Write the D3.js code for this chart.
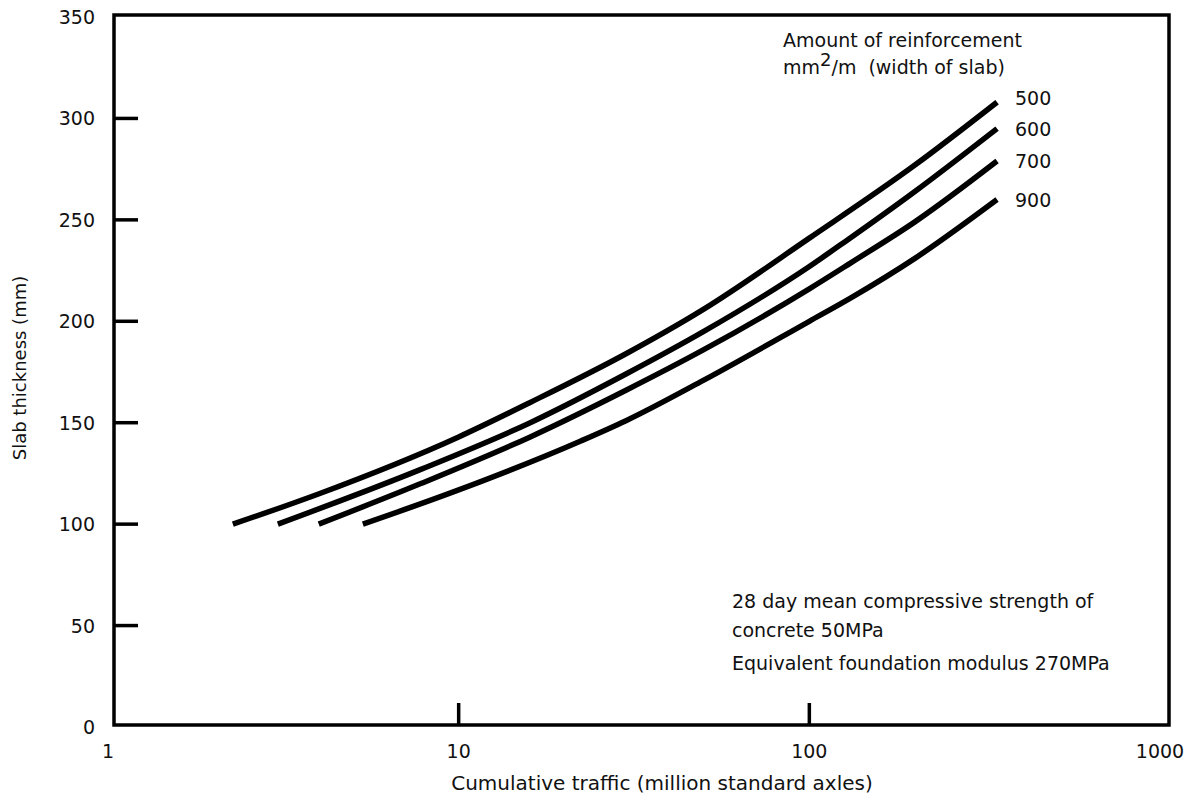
<!DOCTYPE html>
<html>
<head>
<meta charset="utf-8">
<script src="https://cdn.jsdelivr.net/npm/d3@7"></script>
<style>
    body { margin: 0; background: #fff; }
    svg text { font-family: "DejaVu Sans", sans-serif; fill: #111; }
</style>
</head>
<body>
<div id="graphDiv"></div>
<script>
// reinforcement curves (mm2/m), traffic in million standard axles, thickness in mm
const reinforcement = ["500", "600", "700", "900"]

const traffic500 = [2.27, 4, 10, 16, 30, 50, 100, 200, 343]
const thick500 = [100, 115, 143, 160, 184, 206, 241, 277, 308]

const traffic600 = [3.05, 7.8, 16, 30, 50, 100, 127, 200, 343]
const thick600 = [100, 127, 150, 174, 195, 227, 239.5, 264, 295]

const traffic700 = [3.99, 7.8, 16, 30, 50, 100, 131, 200, 343]
const thick700 = [100, 120, 143, 166, 186, 216, 228.7, 249, 279]

const traffic900 = [5.33, 9.7, 22.3, 30, 50, 100, 131, 200, 343]
const thick900 = [100, 116, 141, 151, 171, 200, 211.4, 231, 260]

const xTicks = [1, 10, 100, 1000]
const xMarks = [10, 100]
const yTicks = [0, 50, 100, 150, 200, 250, 300, 350]
const yMarks = [50, 100, 150, 200, 250, 300]

const width = 1199
const height = 800

const svg = d3.select("#graphDiv")
    .append("svg")
    .attr("width", width)
    .attr("height", height)

const xScale = d3.scaleLog().domain([1, 1000]).range([108, 1160])
const yScale = d3.scaleLinear().domain([0, 350]).range([727, 17])

// frame of the plot
const frame = { left: 114, right: 1169, top: 15, bottom: 725 }
svg.append("path")
    .attr("d", `M${frame.left},${frame.top}H${frame.right}V${frame.bottom}H${frame.left}Z`)
    .attr("fill", "none")
    .attr("stroke", "#000")
    .attr("stroke-width", 3.5)

// y-axis: short inward ticks, labels outside
svg.selectAll(".yMark")
    .data(yMarks)
    .enter()
    .append("line")
    .attr("class", "yMark")
    .attr("x1", frame.left)
    .attr("x2", frame.left + 24)
    .attr("y1", d => yScale(d))
    .attr("y2", d => yScale(d))
    .attr("stroke", "#000")
    .attr("stroke-width", 3.5)

svg.selectAll(".yLabel")
    .data(yTicks)
    .enter()
    .append("text")
    .attr("class", "yLabel")
    .attr("x", 95)
    .attr("y", d => yScale(d) + 7)
    .attr("text-anchor", "end")
    .style("font-size", "19px")
    .text(d => d)

// x-axis ticks point upward from the bottom line
svg.selectAll(".xMark")
    .data(xMarks)
    .enter()
    .append("line")
    .attr("class", "xMark")
    .attr("x1", d => xScale(d))
    .attr("x2", d => xScale(d))
    .attr("y1", frame.bottom)
    .attr("y2", frame.bottom - 22)
    .attr("stroke", "#000")
    .attr("stroke-width", 3.5)

svg.selectAll(".xLabel")
    .data(xTicks)
    .enter()
    .append("text")
    .attr("class", "xLabel")
    .attr("x", d => xScale(d))
    .attr("y", 758)
    .attr("text-anchor", "middle")
    .style("font-size", "19px")
    .text(d => d)

svg.append("text")
    .attr("x", 662)
    .attr("y", 790)
    .attr("text-anchor", "middle")
    .style("font-size", "20px")
    .text("Cumulative traffic (million standard axles)")

svg.append("text")
    .attr("transform", `translate(26, 368) rotate(-90)`)
    .attr("text-anchor", "middle")
    .style("font-size", "18px")
    .text("Slab thickness (mm)")

// curves
const series = [
    { name: reinforcement[0], x: traffic500, y: thick500 },
    { name: reinforcement[1], x: traffic600, y: thick600 },
    { name: reinforcement[2], x: traffic700, y: thick700 },
    { name: reinforcement[3], x: traffic900, y: thick900 },
].map(s => ({ name: s.name, points: s.x.map((t, i) => [t, s.y[i]]) }))

const line = d3.line()
    .x(d => xScale(d[0]))
    .y(d => yScale(d[1]))
    .curve(d3.curveMonotoneX)

svg.selectAll(".curve")
    .data(series)
    .enter()
    .append("path")
    .attr("class", "curve")
    .attr("d", d => line(d.points))
    .attr("fill", "none")
    .attr("stroke", "#000")
    .attr("stroke-width", 5.5)

svg.selectAll(".curveLabel")
    .data(series)
    .enter()
    .append("text")
    .attr("class", "curveLabel")
    .attr("x", d => xScale(d.points[d.points.length - 1][0]) + 18)
    .attr("y", (d, i) => yScale(d.points[d.points.length - 1][1]) + (i === 0 ? 3 : 7))
    .style("font-size", "19px")
    .text(d => d.name)

// legend heading
const heading = svg.append("text")
    .attr("x", 783)
    .style("font-size", "19px")
heading.append("tspan").attr("x", 783).attr("y", 47).text("Amount of reinforcement")
const unit = heading.append("tspan").attr("x", 783).attr("y", 74)
unit.append("tspan").text("mm")
unit.append("tspan").attr("dy", -8).style("font-size", "18px").text("2")
unit.append("tspan").attr("dy", 8).text("/m")
unit.append("tspan").attr("dx", 12).text("(width of slab)")

// notes
const notes = ["28 day mean compressive strength of", "concrete 50MPa", "Equivalent foundation modulus 270MPa"]
const noteY = [608, 637, 670]
svg.selectAll(".note")
    .data(notes)
    .enter()
    .append("text")
    .attr("class", "note")
    .attr("x", 732)
    .attr("y", (d, i) => noteY[i])
    .style("font-size", "19px")
    .text(d => d)
</script>
</body>
</html>
